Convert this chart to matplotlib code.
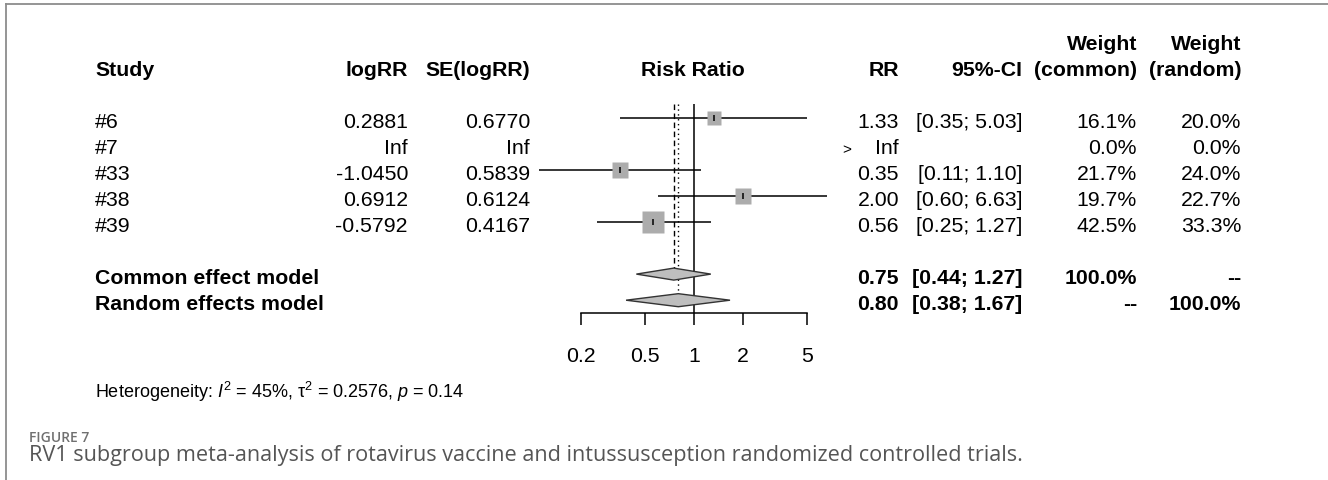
import matplotlib.pyplot as plt
import matplotlib.transforms as mtransforms
from matplotlib.lines import Line2D
from matplotlib.ticker import NullLocator
import numpy as np

plt.rcParams['font.family'] = ['Liberation Sans', 'DejaVu Sans']
plt.rcParams['mathtext.fontset'] = 'custom'
plt.rcParams['mathtext.rm'] = 'Liberation Sans'
plt.rcParams['mathtext.it'] = 'Liberation Sans:italic'
plt.rcParams['mathtext.bf'] = 'Liberation Sans:bold'

# --- data ---
studies = ['#6', '#7', '#33', '#38', '#39']
logrr = [0.2881, np.inf, -1.0450, 0.6912, -0.5792]
se_logrr = [0.6770, np.inf, 0.5839, 0.6124, 0.4167]
rr = [1.33, np.inf, 0.35, 2.00, 0.56]
ci_low = [0.35, np.nan, 0.11, 0.60, 0.25]
ci_high = [5.03, np.nan, 1.10, 6.63, 1.27]
w_common = [16.1, 0.0, 21.7, 19.7, 42.5]
w_random = [20.0, 0.0, 24.0, 22.7, 33.3]

models = ['Common effect model', 'Random effects model']
model_rr = [0.75, 0.80]
model_low = [0.44, 0.38]
model_high = [1.27, 1.67]
model_wc = ['100.0%', '--']
model_wr = ['--', '100.0%']

ticks = [0.2, 0.5, 1, 2, 5]
tick_labels = ['0.2', '0.5', '1', '2', '5']
het_text = (r'Heterogeneity: $I^2$ = 45%, $\mathrm{\tau}^2$ = 0.2576, '
            r'$p$ = 0.14')
fig_label = 'FIGURE 7'
caption = ('RV1 subgroup meta-analysis of rotavirus vaccine and intussusception '
           'randomized controlled trials.')

W, H = 1328, 481
fig = plt.figure(figsize=(W / 100, H / 100), dpi=100)


def fx(px):
    return px / W


def fy(py):
    return 1 - py / H


# forest panel: rows 26.1 px apart, row 0 at pixel y 118.5
row_px = 26.1
row0 = 118.5
top_row, bot_row = -3.5, 7.5
ax = fig.add_axes([fx(581), fy(row0 + row_px * bot_row), fx(807 - 581),
                   row_px * (bot_row - top_row) / H])
ax.set_xscale('log')
ax.set_xlim(0.2, 5)
ax.set_ylim(bot_row, top_row)
ax.patch.set_visible(False)
for s in ['top', 'left', 'right']:
    ax.spines[s].set_visible(False)
ax.spines['bottom'].set_linewidth(1.1)
ax.set_yticks([])
ax.set_xticks(ticks)
ax.set_xticklabels(tick_labels)
ax.xaxis.set_minor_locator(NullLocator())
ax.tick_params(axis='x', length=8.6, width=1.1, pad=15, labelsize=15.3)

rows = np.arange(len(studies))
sum_rows = [6, 7]
top_line = -0.52

# reference and pooled-estimate lines
ax.vlines(1, top_line, bot_row, color='black', lw=1.1, clip_on=False)
ax.vlines(model_rr[0], top_line, sum_rows[0] - 0.23, color='black', lw=1.0,
          linestyles=(0, (4, 2.5)), clip_on=False)
ax.vlines(model_rr[1], top_line, sum_rows[1] - 0.25, color='black', lw=1.0,
          linestyles=(0, (1, 2.5)), clip_on=False)

# study CIs and squares
for r, est, lo, hi, w in zip(rows, rr, ci_low, ci_high, w_common):
    if not np.isfinite(est):
        continue
    ax.hlines(r, lo, hi, color='black', lw=1.1, clip_on=False, zorder=2)
    side_px = 3.4 * np.sqrt(w)
    ax.plot(est, r, marker='s', ms=side_px * 0.72, color='#acacac',
            mec='none', clip_on=False, zorder=3)
    ax.plot(est, r, marker='|', ms=5, mew=1.1, color='black',
            clip_on=False, zorder=4)

# diamonds
for r, est, lo, hi, hh in zip(sum_rows, model_rr, model_low, model_high, [0.23, 0.25]):
    ax.fill([lo, est, hi, est], [r, r - hh, r, r + hh], facecolor='#bebebe',
            edgecolor='#333333', lw=1.0, clip_on=False, zorder=3)

# --- text columns ---
tr = mtransforms.blended_transform_factory(fig.transFigure, ax.transData)
fs = 15.3
base = 0.36


def put(px, row, s, ha='right', bold=False, size=fs):
    fig.text(fx(px), row + base, s, transform=tr, ha=ha, va='baseline',
             fontsize=size, fontweight='bold' if bold else 'normal')


def fmt4(v):
    return 'Inf' if np.isinf(v) else f'{v:.4f}'


# header
put(95, -2, 'Study', ha='left', bold=True)
put(408, -2, 'logRR', bold=True)
put(530, -2, 'SE(logRR)', bold=True)
put(693, -2, 'Risk Ratio', ha='center', bold=True)
put(899, -2, 'RR', bold=True)
put(1022, -2, '95%-CI', bold=True)
put(1137, -3, 'Weight', bold=True)
put(1137, -2, '(common)', bold=True)
put(1241, -3, 'Weight', bold=True)
put(1241, -2, '(random)', bold=True)

for r, name, lr, se, est, lo, hi, wc, wr in zip(rows, studies, logrr, se_logrr, rr,
                                                ci_low, ci_high, w_common, w_random):
    put(95, r, name, ha='left')
    put(408, r, fmt4(lr))
    put(530, r, fmt4(se))
    if np.isfinite(est):
        put(899, r, f'{est:.2f}')
        put(1022, r, f'[{lo:.2f}; {hi:.2f}]')
    else:
        put(847, r, '>', ha='center', size=11)
        put(899, r, 'Inf')
    put(1137, r, f'{wc:.1f}%')
    put(1241, r, f'{wr:.1f}%')

for r, name, est, lo, hi, wc, wr in zip(sum_rows, models, model_rr, model_low,
                                        model_high, model_wc, model_wr):
    put(95, r - 0.03, name, ha='left', bold=True)
    put(899, r - 0.03, f'{est:.2f}', bold=True)
    put(1022, r - 0.03, f'[{lo:.2f}; {hi:.2f}]', bold=True)
    put(1137, r - 0.03, wc, bold=True)
    put(1241, r - 0.03, wr, bold=True)

fig.text(fx(95), fy(398), het_text, ha='left', va='baseline', fontsize=13)

# caption
fig.text(fx(29), fy(442), fig_label, ha='left', va='baseline', fontsize=10,
         family=['Open Sans', 'DejaVu Sans'], fontweight='semibold', color='#707070')
fig.text(fx(29), fy(461), caption, ha='left', va='baseline', fontsize=15.55,
         family=['Open Sans', 'DejaVu Sans'], color='#555555')

# frame lines of the figure panel
fig.add_artist(Line2D([fx(6), 1], [fy(5), fy(5)], color='#8c8c8c', lw=1.3))
fig.add_artist(Line2D([fx(6), fx(6)], [fy(5), 0], color='#8c8c8c', lw=1.3))

fig.savefig('out.png', dpi=100)
